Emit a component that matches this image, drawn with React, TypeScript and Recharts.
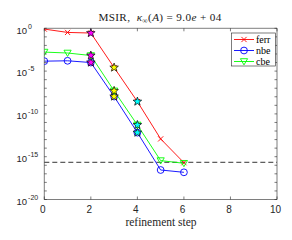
import { LineChart, Line, XAxis, YAxis, ReferenceLine } from "recharts";

// refinement steps and the three error measures
const steps = [0, 1, 2, 3, 4, 5, 6];
const ferr = [0.81, 0.33, 0.28, 2.6e-5, 2.75e-9, 1.2e-13, 2.0e-16];
const nbe = [1.45e-4, 1.6e-4, 1.0e-4, 1.07e-8, 6.5e-13, 2.8e-17, 1.5e-17];
const cbe = [1.66e-3, 1.3e-3, 6.6e-4, 4.9e-8, 5.1e-12, 3.5e-16, 1.7e-16];

// steps that get a star, and the star fill per step
const starSteps = [2, 3, 4];
const starColors = ["#ff00ff", "#ffff00", "#00ffff"];

const unitRoundoff = 2.22e-16;

const xTicks = [0, 2, 4, 6, 8, 10];
const yTicks = [
  1, 1e-1, 1e-2, 1e-3, 1e-4, 1e-5, 1e-6, 1e-7, 1e-8, 1e-9, 1e-10,
  1e-11, 1e-12, 1e-13, 1e-14, 1e-15, 1e-16, 1e-17, 1e-18, 1e-19, 1e-20,
];
const yLabelExps = [0, -5, -10, -15, -20];

const series = [
  { key: "ferr", name: "ferr", color: "#ff0000", marker: "x" },
  { key: "nbe", name: "nbe", color: "#0000ff", marker: "o" },
  { key: "cbe", name: "cbe", color: "#00ff00", marker: "v" },
];

const rows = steps.map((s, i) => ({ step: s, ferr: ferr[i], nbe: nbe[i], cbe: cbe[i] }));

const AXIS = "#262626";
const SANS = "'Liberation Sans', Arial, sans-serif";
const SERIF = "'Liberation Serif', 'Times New Roman', serif";

function Marker({ kind, cx, cy, color }: { kind: string; cx: number; cy: number; color: string }) {
  if (kind === "x") {
    const a = 2.6;
    return (
      <g stroke={color} strokeWidth={0.9}>
        <line x1={cx - a} y1={cy - a} x2={cx + a} y2={cy + a} />
        <line x1={cx - a} y1={cy + a} x2={cx + a} y2={cy - a} />
      </g>
    );
  }
  if (kind === "o") {
    return <circle cx={cx} cy={cy} r={3.4} fill="none" stroke={color} strokeWidth={0.9} />;
  }
  const w = 3.6;
  return (
    <polygon
      points={`${cx - w},${cy - 2.8} ${cx + w},${cy - 2.8} ${cx},${cy + 3.4}`}
      fill="none"
      stroke={color}
      strokeWidth={0.9}
    />
  );
}

function starPoints(cx: number, cy: number, R: number, r: number) {
  const pts: string[] = [];
  for (let i = 0; i < 10; i++) {
    const rad = i % 2 === 0 ? R : r;
    const ang = -Math.PI / 2 + (i * Math.PI) / 5;
    pts.push(`${cx + rad * Math.cos(ang)},${cy + rad * Math.sin(ang)}`);
  }
  return pts.join(" ");
}

const makeDot = (kind: string, color: string) => (props: any) => {
  const { cx, cy, index } = props;
  const si = starSteps.indexOf(steps[index]);
  return (
    <g key={`${kind}-${index}`}>
      <Marker kind={kind} cx={cx} cy={cy} color={color} />
      {si >= 0 && (
        <polygon points={starPoints(cx, cy, 4.5, 1.9)} fill={starColors[si]} stroke="#000" strokeWidth={0.7} />
      )}
    </g>
  );
};

function BottomTick(props: any) {
  const { x, y, payload } = props;
  return (
    <g>
      <line x1={x} x2={x} y1={y} y2={y - 3} stroke={AXIS} strokeWidth={0.6} />
      <text x={x - 1.5} y={y + 13.8} textAnchor="middle" fontSize={10} fontFamily={SANS} fill={AXIS}>
        {payload.value}
      </text>
    </g>
  );
}

function TopTick(props: any) {
  const { x, y } = props;
  return <line x1={x} x2={x} y1={y} y2={y + 3} stroke={AXIS} strokeWidth={0.6} />;
}

function LeftTick(props: any) {
  const { x, y, payload } = props;
  const exp = Math.round(Math.log10(payload.value));
  const labeled = yLabelExps.includes(exp);
  return (
    <g>
      <line x1={x} x2={x + 2.5} y1={y} y2={y} stroke={AXIS} strokeWidth={0.6} />
      {labeled && (
        <text x={16.5} y={y + 5.3} fontSize={9.5} fontFamily={SANS} fill={AXIS}>
          <tspan>10</tspan>
          <tspan dx={1} dy={-5} fontSize={7}>
            {exp}
          </tspan>
        </text>
      )}
    </g>
  );
}

function RightTick(props: any) {
  const { x, y } = props;
  return <line x1={x} x2={x - 2.5} y1={y} y2={y} stroke={AXIS} strokeWidth={0.6} />;
}

function Overlay() {
  return (
    <svg width={292} height={240} style={{ position: "absolute", left: 0, top: 0, pointerEvents: "none" }}>
      <text
        x={160}
        y={20.7}
        textAnchor="middle"
        fontSize={11.2}
        letterSpacing={0.35}
        fontFamily={SERIF}
        fill="#1a1a1a"
        style={{ whiteSpace: "pre" }}
      >
        <tspan>MSIR,  </tspan>
        <tspan fontStyle="italic">κ</tspan>
        <tspan fontSize={7.5} dy={2}>∞</tspan>
        <tspan dy={-2}>(</tspan>
        <tspan fontStyle="italic">A</tspan>
        <tspan>{") = 9.0"}</tspan>
        <tspan fontStyle="italic">e</tspan>
        <tspan>{" + 04"}</tspan>
      </text>
      <text x={161} y={225.5} textAnchor="middle" fontSize={11.5} fontFamily={SERIF} fill="#262626">
        refinement step
      </text>
      <rect x={231.5} y={33} width={44} height={33} fill="#fff" stroke={AXIS} strokeWidth={0.6} />
      {series.map((s, i) => {
        const cy = 39.5 + i * 11;
        return (
          <g key={s.key}>
            <line x1={234} x2={254} y1={cy} y2={cy} stroke={s.color} strokeWidth={0.9} />
            <Marker kind={s.marker} cx={244} cy={cy} color={s.color} />
            <text x={256} y={cy + 3.2} fontSize={10} fontFamily={SERIF} fill="#000">
              {s.name}
            </text>
          </g>
        );
      })}
    </svg>
  );
}

export default function App() {
  return (
    <div style={{ position: "absolute", left: 0, top: 0, width: 292, height: 240, background: "#fff" }}>
      <LineChart width={292} height={240} data={rows} margin={{ top: 27.3, right: 14, bottom: 0.5, left: 0.3 }}>
        <XAxis
          xAxisId="b"
          dataKey="step"
          type="number"
          domain={[0, 10]}
          ticks={xTicks}
          allowDataOverflow
          height={40}
          tickSize={0}
          tickMargin={0}
          tickLine={false}
          axisLine={{ stroke: AXIS, strokeWidth: 0.6 }}
          tick={<BottomTick />}
        />
        <XAxis
          xAxisId="t"
          orientation="top"
          dataKey="step"
          type="number"
          domain={[0, 10]}
          ticks={xTicks}
          allowDataOverflow
          height={1}
          tickSize={0}
          tickMargin={0}
          tickLine={false}
          axisLine={{ stroke: AXIS, strokeWidth: 0.6 }}
          tick={<TopTick />}
        />
        <YAxis
          yAxisId="l"
          type="number"
          scale="log"
          domain={[1e-20, 1]}
          ticks={yTicks}
          allowDataOverflow
          width={44}
          tickSize={0}
          tickMargin={0}
          tickLine={false}
          interval={0}
          axisLine={{ stroke: AXIS, strokeWidth: 0.6 }}
          tick={<LeftTick />}
        />
        <YAxis
          yAxisId="r"
          orientation="right"
          type="number"
          scale="log"
          domain={[1e-20, 1]}
          ticks={yTicks}
          allowDataOverflow
          width={1}
          tickSize={0}
          tickMargin={0}
          tickLine={false}
          interval={0}
          axisLine={{ stroke: AXIS, strokeWidth: 0.6 }}
          tick={<RightTick />}
        />
        <ReferenceLine
          xAxisId="b"
          yAxisId="l"
          y={unitRoundoff}
          stroke="#333"
          strokeWidth={1}
          strokeDasharray="5 3"
        />
        {series.map((s) => (
          <Line
            key={s.key}
            xAxisId="b"
            yAxisId="l"
            dataKey={s.key}
            name={s.name}
            type="linear"
            stroke={s.color}
            strokeWidth={0.9}
            dot={makeDot(s.marker, s.color)}
            activeDot={false}
            isAnimationActive={false}
          />
        ))}
      </LineChart>
      <Overlay />
    </div>
  );
}
